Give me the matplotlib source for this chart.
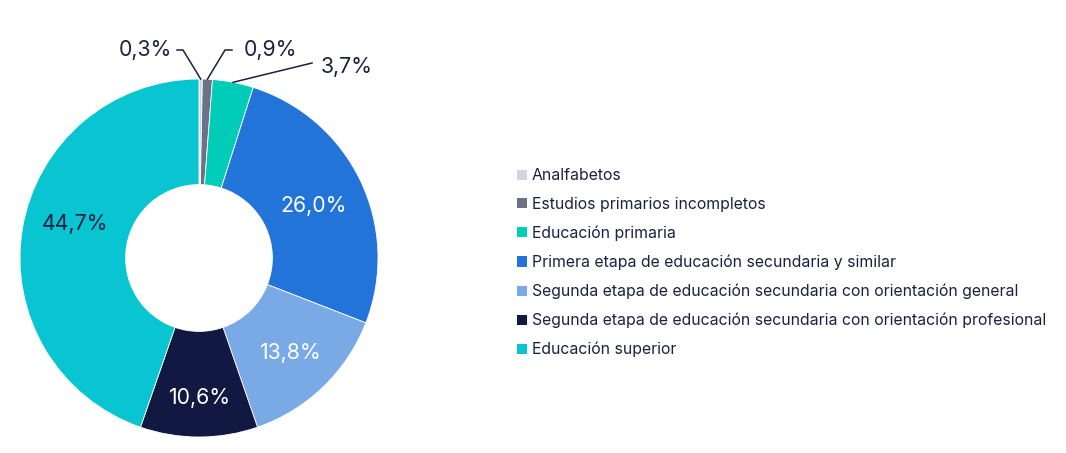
import numpy as np
import matplotlib.pyplot as plt
from matplotlib.patches import Patch

plt.rcParams["font.family"] = ["Inter", "DejaVu Sans"]

# -----------------------------
# Data
# -----------------------------
categories = [
    "Analfabetos",
    "Estudios primarios incompletos",
    "Educación primaria",
    "Primera etapa de educación secundaria y similar",
    "Segunda etapa de educación secundaria con orientación general",
    "Segunda etapa de educación secundaria con orientación profesional",
    "Educación superior",
]
values = [0.3, 0.9, 3.7, 26.0, 13.8, 10.6, 44.7]
labels = ["0,3%", "0,9%", "3,7%", "26,0%", "13,8%", "10,6%", "44,7%"]

colors = ["#d2d5dd", "#6c7188", "#00ccb8", "#2274d9", "#7aaae6", "#111842", "#08c5d1"]
text_colors = [None, None, None, "white", "white", "white", "#1b2142"]
dark = "#1b2142"

# -----------------------------
# Figure layout (pixel based)
# -----------------------------
W, H = 1066, 453
fig = plt.figure(figsize=(W/100, H/100), dpi=100)
cx, cy, R = 199, 258, 179
ax = fig.add_axes([(cx-R)/W, (H-cy-R)/H, 2*R/W, 2*R/H])

wedges, _ = ax.pie(
    values,
    colors=colors,
    startangle=90,
    counterclock=False,
    radius=1.0,
    wedgeprops=dict(width=0.59, edgecolor="white", linewidth=0.6),
)
ax.set_xlim(-1, 1)
ax.set_ylim(-1, 1)
ax.set_aspect("equal")
ax.axis("off")

# labels inside the big wedges
inside_pos = {3: (0.64, 0.29), 4: (0.51, -0.53), 5: (0.0, -0.78), 6: (-0.69, 0.19)}
for i, (lx, ly) in inside_pos.items():
    ax.text(lx, ly, labels[i], color=text_colors[i], fontsize=15.3,
            ha="center", va="center")

# small wedges: leader lines from the outer edge
cum = np.cumsum([0] + values)
def edge_point(i):
    ang = np.deg2rad(90 - (cum[i] + values[i]/2) * 3.6)
    return np.cos(ang), np.sin(ang)

def px(x, y):
    return (x - cx)/R, (cy - y)/R

# 0,3%
ex, ey = edge_point(0)
p1, p2 = px(177, 50), px(183, 50)
ax.plot([ex, p2[0], p1[0]], [ey, p2[1], p1[1]], color=dark, lw=1.1, clip_on=False)
ax.text(*px(172, 50), labels[0], color=dark, fontsize=15.3, ha="right", va="center")

# 0,9%
ex, ey = edge_point(1)
p1, p2 = px(232, 50), px(225, 50)
ax.plot([ex, p2[0], p1[0]], [ey, p2[1], p1[1]], color=dark, lw=1.1, clip_on=False)
ax.text(*px(244, 50), labels[1], color=dark, fontsize=15.3, ha="left", va="center")

# 3,7%
ex, ey = edge_point(2)
p1 = px(312, 63)
ax.plot([ex, p1[0]], [ey, p1[1]], color=dark, lw=1.1, clip_on=False)
ax.text(*px(321, 67), labels[2], color=dark, fontsize=15.3, ha="left", va="center")

# -----------------------------
# Legend
# -----------------------------
handles = [Patch(facecolor=c, edgecolor="none") for c in colors]
fig.legend(
    handles, categories,
    loc="upper left",
    bbox_to_anchor=(503/W, 1 - 154/H),
    frameon=False,
    fontsize=11.4,
    handlelength=0.6,
    handleheight=0.6,
    handletextpad=0.3,
    labelspacing=0.86,
    labelcolor=dark,
)

fig.savefig("out.png", dpi=100, facecolor="white")
